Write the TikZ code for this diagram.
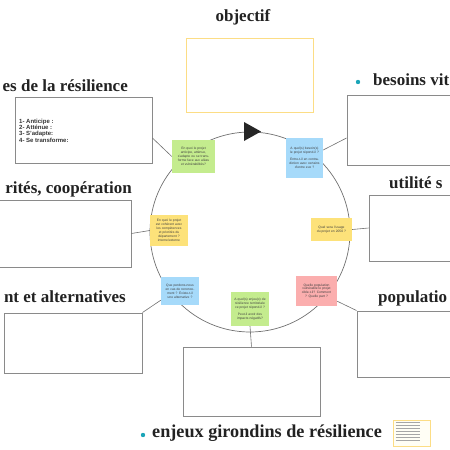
\documentclass[tikz,border=0pt]{standalone}
\usepackage{fontspec}
\setmainfont{Liberation Sans}
\newfontfamily\headfont{Liberation Serif}

\definecolor{frameGray}{HTML}{8A8A8A}
\definecolor{lineGray}{HTML}{707070}
\definecolor{stickGreen}{HTML}{C4EC8E}
\definecolor{stickBlue}{HTML}{A6DAFA}
\definecolor{stickYellow}{HTML}{FDE27A}
\definecolor{stickPink}{HTML}{FBAEAE}
\definecolor{goalYellow}{HTML}{FCDD85}
\definecolor{bulletTeal}{HTML}{1BA5B8}
\definecolor{headDark}{HTML}{222222}

\tikzstyle{sticky}=[inner sep=1pt, align=center, text=black!75, font=\fontsize{3.3}{3.9}\selectfont]
\tikzstyle{frameBox}=[draw=frameGray, line width=0.9pt, fill=white, inner sep=0pt]
\tikzstyle{headline}=[inner sep=0pt, text=headDark, font=\headfont\bfseries\fontsize{17}{18}\selectfont]
\tikzstyle{linkStyle}=[lineGray, line width=0.6pt]

\begin{document}
\begin{tikzpicture}[x=1pt, y=-1pt]
	\useasboundingbox (0,0) rectangle (450,450);

	% Kreis mit Pfeil
	\node(wheel) at (250,232) [circle, draw=lineGray, line width=0.7pt, minimum size=200pt, inner sep=0pt] {};
	\fill[black!85] (244,122) -- (244,141) -- (261,131.5) -- cycle;

	% Rahmen
	\node(goal) at (249.5,75) [frameBox, draw=goalYellow, minimum width=127pt, minimum height=74pt] {};
	\node(capa) at (83.5,130) [frameBox, minimum width=137pt, minimum height=66pt] {};
	\node(coop) at (63,233.5) [frameBox, minimum width=136pt, minimum height=67pt] {};
	\node(alter) at (73,343) [frameBox, minimum width=138pt, minimum height=60pt] {};
	\node(needs) at (407,130) [frameBox, minimum width=120pt, minimum height=70pt] {};
	\node(usage) at (419,228) [frameBox, minimum width=100pt, minimum height=66pt] {};
	\node(people) at (412,344) [frameBox, minimum width=110pt, minimum height=66pt] {};
	\node(stakes) at (251.5,381.5) [frameBox, minimum width=137pt, minimum height=69pt] {};

	\node(capaText) at (19,118.5) [anchor=north west, inner sep=0pt, align=left, text=black!80,
		font=\bfseries\fontsize{6}{6.4}\selectfont]
		{1- Anticipe :\\2- Att\'enue :\\3- S'adapte:\\4- Se transforme:};

	% Titel
	\node(goalHead) at (243,17) [headline] {objectif};
	\node(capaHead) at (128,86) [headline, anchor=east] {es de la r\'esilience};
	\node(needsHead) at (373,80) [headline, anchor=west] {besoins vit};
	\node(coopHead) at (132,189) [headline, anchor=east] {rit\'es, coop\'eration};
	\node(usageHead) at (389,183) [headline, anchor=west] {utilit\'e s};
	\node(alterHead) at (126,297) [headline, anchor=east] {nt et alternatives};
	\node(peopleHead) at (378,298) [headline, anchor=west] {populatio};
	\node(stakesHead) at (152,433) [headline, anchor=west, font=\headfont\bfseries\fontsize{18.2}{19}\selectfont] {enjeux girondins de r\'esilience};
	\fill[bulletTeal] (358,82) circle (2.2pt);
	\fill[bulletTeal] (143,435) circle (2.2pt);

	% Post-its
	\node(q1) at (193.5,156.5) [sticky, fill=stickGreen, minimum width=43pt, minimum height=33pt, text width=36pt]
		{En quoi le projet anticipe, att\'enue, s'adapte ou se transforme face aux al\'eas et vuln\'erabilit\'es?};
	\node(q2) at (304.5,158) [sticky, fill=stickBlue, minimum width=37pt, minimum height=40pt, text width=32pt]
		{A quel(s) besoin(s) le projet r\'epond-il ?\\[3pt]Entre-t-il en contradiction avec certains d'entre eux ?};
	\node(q3) at (169,230.5) [sticky, fill=stickYellow, minimum width=38pt, minimum height=31pt, text width=33pt]
		{En quoi le projet est coh\'erent avec les comp\'etences et priorit\'es du d\'epartement ? interne/externe};
	\node(q4) at (331.5,229.5) [sticky, fill=stickYellow, minimum width=41pt, minimum height=23pt, text width=35pt]
		{Quel sera l'usage du projet en 2050 ?};
	\node(q5) at (180,291) [sticky, fill=stickBlue, minimum width=38pt, minimum height=28pt, text width=33pt]
		{Que perdons-nous en cas de renoncement ? Existe-t-il une alternative ?};
	\node(q6) at (250,309) [sticky, fill=stickGreen, minimum width=38pt, minimum height=34pt, text width=33pt]
		{A quel(s) enjeu(x) de r\'esilience territoriale ce projet r\'epond-il ?\\[3pt]Peut-il avoir des impacts n\'egatifs?};
	\node(q7) at (316.5,291) [sticky, fill=stickPink, minimum width=41pt, minimum height=30pt, text width=36pt]
		{Quelle population vuln\'erable le projet cible-t-il? Comment ? Quelle part ?};

	% Verbindungen
	\draw[linkStyle] (q1.west) -- ([yshift=-8pt]capa.east);
	\draw[linkStyle] ([yshift=8pt]q2.east) -- ([yshift=-8pt]needs.west);
	\draw[linkStyle] (q3.west) -- (coop.east);
	\draw[linkStyle] (q4.east) -- (usage.west);
	\draw[linkStyle] ([yshift=5pt]q5.south west) -- (alter.north east);
	\draw[linkStyle] (q6.south) -- (stakes.north);
	\draw[linkStyle] ([yshift=5pt]q7.south east) -- (people.north west);

	% Vorschau
	\node(thumb) at (411.5,433) [draw=goalYellow, line width=0.8pt, fill=yellow!4, minimum width=37pt, minimum height=26pt, inner sep=0pt] {};
	\foreach \row in {1,...,7}
		{
			\draw[black!35, line width=0.4pt] ([xshift=3pt, yshift=-3*\row pt]thumb.north west) -- ++(24pt,0);
		}

\end{tikzpicture}
\end{document}
